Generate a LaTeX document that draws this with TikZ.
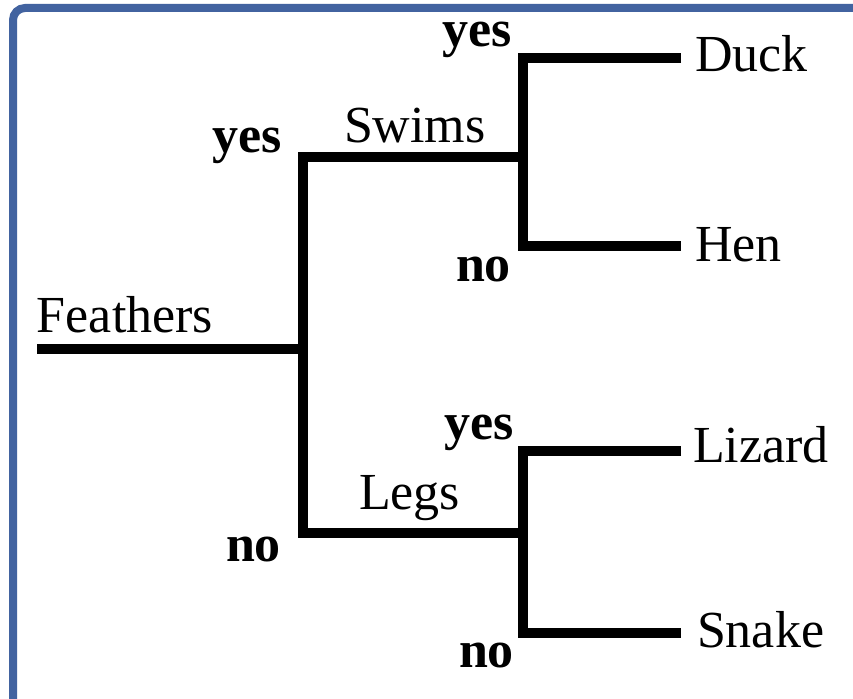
\documentclass[tikz,border=0pt]{standalone}
\usepackage{fontspec}
\setmainfont{Liberation Serif}
\definecolor{framecol}{RGB}{66,99,160}
\begin{document}
\begin{tikzpicture}[x=0.5pt,y=-0.5pt,
  branch/.style={line width=4.6pt, line join=miter, line cap=butt},
  lbl/.style={anchor=base west, inner sep=0pt, outer sep=0pt, font=\fontsize{26}{29}\selectfont},
  ans/.style={anchor=base west, inner sep=0pt, outer sep=0pt, font=\fontsize{26}{29}\selectfont\bfseries},
  framestyle/.style={draw=framecol, line width=4pt, rounded corners=6pt}]
\useasboundingbox (0,0) rectangle (853,699);
\clip (0,0) rectangle (853,699);
\fill[white] (0,0) rectangle (853,699);
\draw[framestyle] (13,720) -- (13,8) -- (880,8);
% junction coordinates
\coordinate (rootstart) at (37,349);
\coordinate (root) at (303,349);
\coordinate (mtop) at (303,157);
\coordinate (mbot) at (303,533);
\coordinate (swims) at (523,157);
\coordinate (stop) at (523,58);
\coordinate (sbot) at (523,246);
\coordinate (duckend) at (681,58);
\coordinate (henend) at (681,246);
\coordinate (legs) at (523,533);
\coordinate (ltop) at (523,451);
\coordinate (lbot) at (523,633);
\coordinate (lizend) at (681,451);
\coordinate (snakeend) at (681,633);
% labels
\node[lbl] (feathers) at (37,333) {Feathers};
\node[lbl] (swimslbl) at (344,143) {Swims};
\node[lbl] (legslbl) at (359,510) {Legs};
\node[lbl] (duck) at (695,72) {Duck};
\node[lbl] (hen) at (695,262) {Hen};
\node[lbl] (lizard) at (693,463) {Lizard};
\node[lbl] (snake) at (697,648) {Snake};
\node[ans] (yes1) at (212,153) {yes};
\node[ans] (no1) at (226,562) {no};
\node[ans] (yes2) at (442,47) {yes};
\node[ans] (no2) at (456,282) {no};
\node[ans] (yes3) at (444,440) {yes};
\node[ans] (no3) at (459,668) {no};
% connectors
\draw[branch] (rootstart) -- (root);
\draw[branch] (swims) -- (mtop) -- (mbot) -- (legs);
\draw[branch] (duckend) -- (stop) -- (sbot) -- (henend);
\draw[branch] (lizend) -- (ltop) -- (lbot) -- (snakeend);
\end{tikzpicture}
\end{document}
